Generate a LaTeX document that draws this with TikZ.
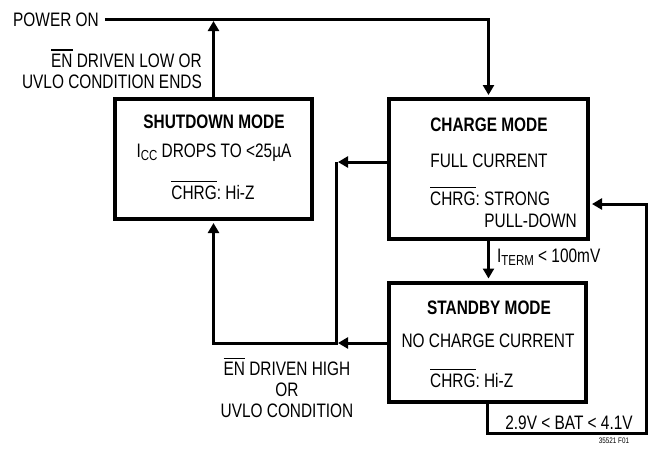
\documentclass[tikz,border=0pt]{standalone}
\usepackage{fontspec}
\setmainfont{Liberation Sans}[FakeStretch=0.79]
\usetikzlibrary{arrows.meta}
\frenchspacing
\newcommand{\ovl}[1]{\leavevmode\vbox{\hrule height 1.2pt\kern 3.4pt\hbox{#1}}}
\newcommand{\sub}[1]{\raisebox{-3.5pt}{\fontsize{14.5}{14.5}\selectfont #1}}
\tikzset{
  modebox/.style   = {draw, line width=4pt, inner sep=0pt},
  flowline/.style  = {-{Triangle[length=10pt, width=11pt]}, line width=3pt,
                      shorten >=2pt},
  modetitle/.style = {font=\fontsize{19.5}{22}\selectfont\bfseries,
                      inner sep=0pt, text height=14pt, text depth=0pt},
  modetext/.style  = {font=\fontsize{19.5}{22}\selectfont,
                      inner sep=0pt, text height=14pt, text depth=0pt},
  condlbl/.style   = {font=\fontsize{19.5}{21}\selectfont, inner sep=0pt},
  figlbl/.style    = {font=\fontsize{8}{9}\selectfont, inner sep=0pt}
}

\begin{document}
\begin{tikzpicture}[x=1pt, y=-1pt]
  \useasboundingbox (0,0) rectangle (649,448);
  % Mode boxes
  \node[modebox, minimum width=197pt, minimum height=120pt] (shut) at (213.5,159) {};
  \node[modebox, minimum width=199pt, minimum height=140pt] (chg)  at (488.5,169) {};
  \node[modebox, minimum width=197pt, minimum height=119pt] (stby) at (487.5,342) {};
  % Shutdown contents
  \node[modetitle] (shutT) at (214,121) {SHUTDOWN MODE};
  \node[modetext]  (shutI) at (214,150) {I\sub{CC} DROPS TO <25µA};
  \node[modetext]  (shutC) at (213,192) {\ovl{CHRG}: Hi-Z};
  % Charge contents
  \node[modetitle] (chgT) at (489,124) {CHARGE MODE};
  \node[modetext]  (chgF) at (489,160) {FULL CURRENT};
  \node[modetext, anchor=west] (chgC) at (430,198) {\ovl{CHRG}: STRONG};
  \node[modetext, anchor=east] (chgP) at (577,220) {PULL-DOWN};
  % Standby contents
  \node[modetitle] (stbyT) at (489,307) {STANDBY MODE};
  \node[modetext]  (stbyN) at (488,340) {NO CHARGE CURRENT};
  \node[modetext, anchor=west] (stbyC) at (430,380) {\ovl{CHRG}: Hi-Z};
  % Conditions
  \node[modetext, anchor=west] (pwr) at (13,19) {POWER ON};
  \node[condlbl, align=right, anchor=east] (enlow) at (202,69)
       {\ovl{EN} DRIVEN LOW OR\\UVLO CONDITION ENDS};
  \node[modetext, anchor=west] (iterm) at (497,255) {I\sub{TERM} < 100mV};
  \node[modetext] (bat) at (569,422) {2.9V < BAT < 4.1V};
  \node[condlbl, align=center] (enhigh) at (287,388)
       {\ovl{EN} DRIVEN HIGH\\OR\\UVLO CONDITION};
  \node[figlbl] (figid) at (614,441) {35521 F01};
  % Junctions
  \coordinate (pwrend) at (shut.north |- pwr.east);
  \coordinate (jtop)  at (336,162);
  \coordinate (jbot)  at (336,343);
  \coordinate (batbr) at (646,433);
  \coordinate (battr) at (646,204);
  % Transitions
  \draw[flowline] ([xshift=6pt]pwr.east) -| (chg.north);
  \draw[flowline] (shut.north) -- (pwrend);
  \draw[flowline] (chg.south) -- (chg.south |- stby.north);
  \draw[flowline] (chg.west |- jtop) -- (jtop);
  \draw[flowline] (stby.west |- jbot) -- (jbot);
  \draw[flowline] (jtop) -- (jbot) -| (shut.south);
  \draw[flowline] (stby.south) |- (batbr) -- (battr) -- (chg.east |- battr);
\end{tikzpicture}
\end{document}
